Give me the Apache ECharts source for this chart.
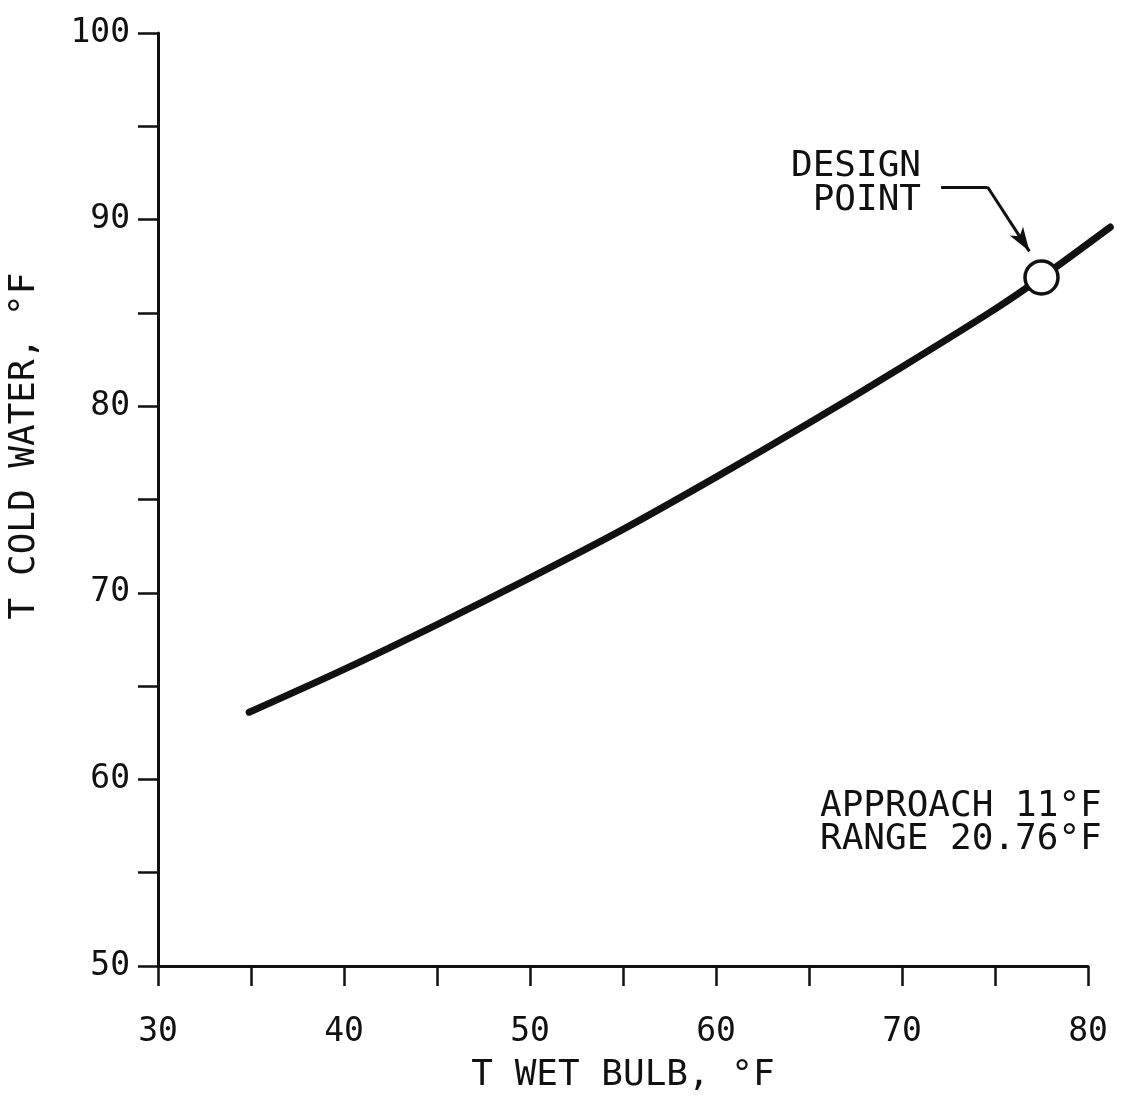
<!DOCTYPE html>
<html>
<head>
<meta charset="utf-8">
<script src="https://cdn.jsdelivr.net/npm/echarts@6/dist/echarts.min.js"></script>
<style>
  html, body { margin: 0; padding: 0; background: #fff; }
  #chart { width: 1125px; height: 1100px; }
</style>
</head>
<body>
<div id="chart"></div>
<script>
// Data
const wetBulb   = [34.9, 40, 45, 50, 55, 60, 65, 70, 75, 77.5, 81.2];
const coldWater = [63.6, 65.9, 68.3, 70.8, 73.4, 76.2, 79.1, 82.1, 85.2, 86.9, 89.6];
const designPoint = [77.5, 86.9];
const arrowPath = [[72.1, 91.75], [74.6, 91.75], [76.85, 88.3]];
const xTickLabels = [30, 40, 50, 60, 70, 80];
const yTickLabels = [50, 60, 70, 80, 90, 100];
const noteLines = ['APPROACH 11°F', 'RANGE 20.76°F'];
const designLabel = ['DESIGN', 'POINT'];

const FONT = '"DejaVu Sans Mono", "Liberation Mono", monospace';
const INK = '#111111';

// plot geometry (pixels)
const G_LEFT = 158, G_TOP = 33, G_BOTTOM = 134, G_RIGHT = 37;
const X_MIN = 30, X_MAX = 80;
const plotW = 1125 - G_LEFT - G_RIGHT;
const pxPerUnit = plotW / (X_MAX - X_MIN);
const CURVE_X_MAX = wetBulb[wetBulb.length - 1];
// a second, invisible grid with the same scale, wide enough for the curve tail beyond 80
const G2_RIGHT = 1125 - G_LEFT - (CURVE_X_MAX - X_MIN) * pxPerUnit;

const chart = echarts.init(document.getElementById('chart'), null, { renderer: 'canvas' });

const curveData = wetBulb.map((x, i) => [x, coldWater[i]]);

chart.setOption({
  backgroundColor: '#ffffff',
  animation: false,
  grid: [
    { left: G_LEFT, right: G_RIGHT, top: G_TOP, bottom: G_BOTTOM, containLabel: false },
    { left: G_LEFT, right: G2_RIGHT, top: G_TOP, bottom: G_BOTTOM, containLabel: false }
  ],
  xAxis: [{
    type: 'value', min: X_MIN, max: X_MAX, interval: 5, gridIndex: 0,
    name: 'T WET BULB, °F', nameLocation: 'middle', nameGap: 92,
    nameTextStyle: { fontFamily: FONT, fontSize: 36, color: INK },
    axisLine: { show: true, onZero: false, lineStyle: { color: INK, width: 3 } },
    axisTick: { show: true, length: 20, inside: false, lineStyle: { color: INK, width: 2.5 } },
    axisLabel: {
      margin: 50, fontFamily: FONT, fontSize: 33, color: INK,
      formatter: v => xTickLabels.indexOf(v) >= 0 ? String(v) : ''
    },
    splitLine: { show: false }
  }, {
    type: 'value', min: X_MIN, max: CURVE_X_MAX, gridIndex: 1, show: false
  }],
  yAxis: [{
    type: 'value', min: 50, max: 100, interval: 5, gridIndex: 0,
    axisLine: { show: true, onZero: false, lineStyle: { color: INK, width: 3 } },
    axisTick: { show: true, length: 20, inside: false, lineStyle: { color: INK, width: 2.5 } },
    axisLabel: {
      margin: 28, fontFamily: FONT, fontSize: 33, color: INK,
      formatter: v => yTickLabels.indexOf(v) >= 0 ? String(v) : ''
    },
    splitLine: { show: false }
  }, {
    type: 'value', min: 50, max: 100, gridIndex: 1, show: false
  }],
  graphic: [
    {
      type: 'text', x: 25, y: 446, rotation: Math.PI / 2,
      style: { text: 'T COLD WATER, °F', font: '36px ' + FONT, fill: INK, textAlign: 'center', textVerticalAlign: 'middle' }
    },
    {
      type: 'text', x: 921, y: 167,
      style: { text: designLabel[0], font: '36px ' + FONT, fill: INK, textAlign: 'right', textVerticalAlign: 'middle' }
    },
    {
      type: 'text', x: 921, y: 201,
      style: { text: designLabel[1], font: '36px ' + FONT, fill: INK, textAlign: 'right', textVerticalAlign: 'middle' }
    },
    {
      type: 'text', x: 820, y: 807,
      style: { text: noteLines[0], font: '36px ' + FONT, fill: INK, textAlign: 'left', textVerticalAlign: 'middle' }
    },
    {
      type: 'text', x: 820, y: 840,
      style: { text: noteLines[1], font: '36px ' + FONT, fill: INK, textAlign: 'left', textVerticalAlign: 'middle' }
    }
  ],
  series: [
    {
      type: 'line', xAxisIndex: 1, yAxisIndex: 1,
      data: curveData, smooth: 0.3, clip: false,
      showSymbol: false, symbol: 'none',
      lineStyle: { color: INK, width: 7, cap: 'round' },
      z: 2
    },
    {
      type: 'scatter', xAxisIndex: 0, yAxisIndex: 0,
      data: [designPoint], clip: false,
      symbol: 'circle', symbolSize: 33,
      itemStyle: { color: '#ffffff', borderColor: INK, borderWidth: 3.5, opacity: 1 },
      z: 5,
      markLine: {
        silent: true, animation: false,
        label: { show: false },
        lineStyle: { color: INK, width: 3, type: 'solid' },
        symbolSize: [12, 24],
        data: [
          [ { coord: arrowPath[0], symbol: 'none' }, { coord: arrowPath[1], symbol: 'none' } ],
          [ { coord: arrowPath[1], symbol: 'none' }, { coord: arrowPath[2], symbol: 'arrow' } ]
        ]
      }
    }
  ]
});
</script>
</body>
</html>
